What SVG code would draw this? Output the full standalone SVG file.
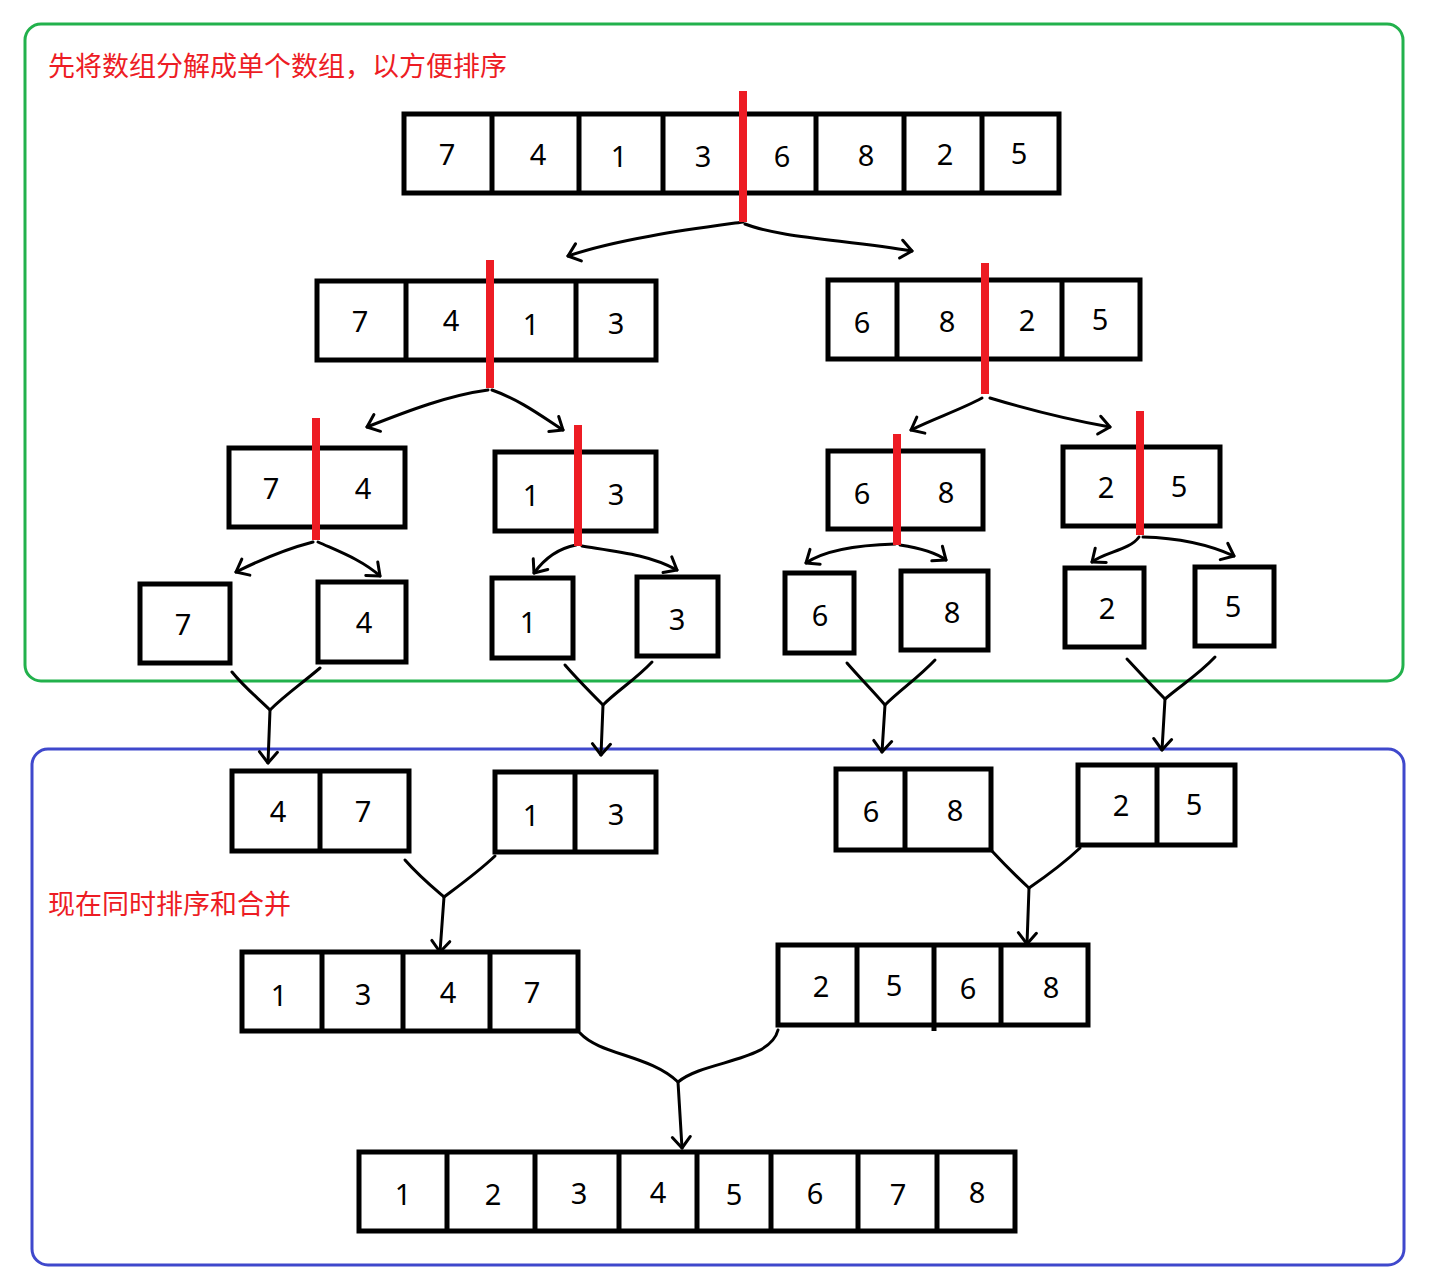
<svg xmlns="http://www.w3.org/2000/svg" width="1441" height="1280" viewBox="0 0 1441 1280">
<style>
.box{fill:none;stroke:#000;stroke-width:5}
.div{stroke:#000;stroke-width:5}
.cut{stroke:#ed1c24;stroke-width:8}
.num{font-family:"Noto Sans","Open Sans",sans-serif;font-size:29px;fill:#000;text-anchor:middle}
.note{font-family:"Noto Sans CJK SC","Noto Sans",sans-serif;font-size:27px;fill:#ed1c24}
.con{fill:none;stroke:#000;stroke-width:3;stroke-linecap:round;stroke-linejoin:round}
</style>
<defs>
<marker id="ah" markerUnits="userSpaceOnUse" markerWidth="26" markerHeight="26" viewBox="-13 -13 26 26" refX="0" refY="0" orient="auto">
<path d="M-11,-9 L0,0 L-11,9" fill="none" stroke="#000" stroke-width="3" stroke-linecap="round" stroke-linejoin="round"/>
</marker>
</defs>
<rect width="1441" height="1280" fill="#fff"/>
<g id="split-area"><rect x="25" y="24" width="1378" height="657" rx="16" fill="none" stroke="#22b14c" stroke-width="3"/>
<text class="note" x="48" y="76">先将数组分解成单个数组，以方便排序</text></g>
<g id="merge-area"><rect x="32" y="749" width="1372" height="516" rx="16" fill="none" stroke="#3f48cc" stroke-width="3"/>
<text class="note" x="48" y="914">现在同时排序和合并</text></g>

<g id="connectors">
<path class="con" marker-end="url(#ah)" d="M743,222 C700,228 620,238 568,256"/>
<path class="con" marker-end="url(#ah)" d="M745,224 C780,238 850,240 912,251"/>
<path class="con" marker-end="url(#ah)" d="M488,390 C450,395 410,410 367,427"/>
<path class="con" marker-end="url(#ah)" d="M492,390 C520,400 540,415 563,430"/>
<path class="con" marker-end="url(#ah)" d="M982,398 C960,410 935,418 911,430"/>
<path class="con" marker-end="url(#ah)" d="M990,398 C1030,410 1070,420 1110,427"/>
<path class="con" marker-end="url(#ah)" d="M313,542 C290,548 260,560 236,572"/>
<path class="con" marker-end="url(#ah)" d="M318,542 C340,552 362,560 380,576"/>
<path class="con" marker-end="url(#ah)" d="M576,545 C560,548 545,558 534,573"/>
<path class="con" marker-end="url(#ah)" d="M582,546 C620,552 650,555 677,570"/>
<path class="con" marker-end="url(#ah)" d="M895,544 C860,545 825,550 806,563"/>
<path class="con" marker-end="url(#ah)" d="M900,545 C920,548 935,552 946,560"/>
<path class="con" marker-end="url(#ah)" d="M1139,537 C1130,550 1105,552 1092,562"/>
<path class="con" marker-end="url(#ah)" d="M1143,537 C1180,538 1210,545 1234,556"/>
<path class="con" d="M232,672 C245,688 258,698 270,710 M320,668 C300,685 285,695 270,710"/>
<path class="con" marker-end="url(#ah)" d="M270,710 L268,763"/>
<path class="con" d="M565,665 C578,680 590,692 603,705 M652,662 C635,680 618,690 603,705"/>
<path class="con" marker-end="url(#ah)" d="M603,705 L601,755"/>
<path class="con" d="M847,663 C860,678 872,690 885,705 M935,660 C918,678 900,690 885,705"/>
<path class="con" marker-end="url(#ah)" d="M885,705 L882,752"/>
<path class="con" d="M1127,659 C1140,673 1152,686 1165,699 M1215,657 C1198,675 1180,686 1165,699"/>
<path class="con" marker-end="url(#ah)" d="M1165,699 L1162,750"/>
<path class="con" d="M405,860 C418,875 430,885 444,897 M495,856 C478,872 460,885 444,897"/>
<path class="con" marker-end="url(#ah)" d="M444,897 L440,952"/>
<path class="con" d="M991,850 C1005,865 1017,877 1029,888 M1080,848 C1062,865 1045,877 1029,888"/>
<path class="con" marker-end="url(#ah)" d="M1029,888 L1027,944"/>
<path class="con" d="M580,1033 C600,1055 650,1055 678,1082 M778,1030 C770,1062 705,1060 678,1082"/>
<path class="con" marker-end="url(#ah)" d="M678,1082 L682,1148"/>
</g>

<g id="arr-74132685">
<rect class="box" x="404" y="114" width="655" height="79"/>
<path class="div" d="M492,114V193M579,114V193M663,114V193M743,114V193M816,114V193M904,114V193M982,114V193"/>
<text class="num" x="447" y="165">7</text><text class="num" x="538" y="165">4</text><text class="num" x="619" y="167">1</text><text class="num" x="703" y="167">3</text><text class="num" x="782" y="167">6</text><text class="num" x="866" y="166">8</text><text class="num" x="945" y="165">2</text><text class="num" x="1019" y="164">5</text>
<line class="cut" x1="743" y1="91" x2="743" y2="222"/>
</g>
<g id="arr-7413">
<rect class="box" x="317" y="281" width="339" height="79"/>
<path class="div" d="M406,281V360M490,281V360M576,281V360"/>
<text class="num" x="360" y="332">7</text><text class="num" x="451" y="331">4</text><text class="num" x="531" y="335">1</text><text class="num" x="616" y="334">3</text>
<line class="cut" x1="490" y1="260" x2="490" y2="388"/>
</g>
<g id="arr-6825">
<rect class="box" x="828" y="280" width="312" height="79"/>
<path class="div" d="M897,280V359M985,280V359M1062,280V359"/>
<text class="num" x="862" y="333">6</text><text class="num" x="947" y="332">8</text><text class="num" x="1027" y="331">2</text><text class="num" x="1100" y="330">5</text>
<line class="cut" x1="985" y1="263" x2="985" y2="394"/>
</g>
<g id="arr-74">
<rect class="box" x="229" y="448" width="176" height="79"/>
<path class="div" d="M316,448V527"/>
<text class="num" x="271" y="499">7</text><text class="num" x="363" y="499">4</text>
<line class="cut" x1="316" y1="418" x2="316" y2="540"/>
</g>
<g id="arr-13">
<rect class="box" x="495" y="452" width="161" height="79"/>
<path class="div" d="M578,452V531"/>
<text class="num" x="531" y="506">1</text><text class="num" x="616" y="505">3</text>
<line class="cut" x1="578" y1="425" x2="578" y2="546"/>
</g>
<g id="arr-68">
<rect class="box" x="828" y="451" width="155" height="78"/>
<path class="div" d="M897,451V529"/>
<text class="num" x="862" y="504">6</text><text class="num" x="946" y="503">8</text>
<line class="cut" x1="897" y1="434" x2="897" y2="545"/>
</g>
<g id="arr-25">
<rect class="box" x="1063" y="447" width="157" height="79"/>
<path class="div" d="M1140,447V526"/>
<text class="num" x="1106" y="498">2</text><text class="num" x="1179" y="497">5</text>
<line class="cut" x1="1140" y1="411" x2="1140" y2="535"/>
</g>
<g id="one-7"><rect class="box" x="140" y="584" width="90" height="79"/><text class="num" x="183" y="635">7</text></g>
<g id="one-4"><rect class="box" x="318" y="582" width="88" height="80"/><text class="num" x="364" y="633">4</text></g>
<g id="one-1"><rect class="box" x="492" y="578" width="81" height="80"/><text class="num" x="528" y="633">1</text></g>
<g id="one-3"><rect class="box" x="637" y="577" width="81" height="79"/><text class="num" x="677" y="630">3</text></g>
<g id="one-6"><rect class="box" x="785" y="573" width="69" height="80"/><text class="num" x="820" y="626">6</text></g>
<g id="one-8"><rect class="box" x="901" y="571" width="87" height="79"/><text class="num" x="952" y="623">8</text></g>
<g id="one-2"><rect class="box" x="1065" y="568" width="79" height="79"/><text class="num" x="1107" y="619">2</text></g>
<g id="one-5"><rect class="box" x="1195" y="567" width="79" height="79"/><text class="num" x="1233" y="617">5</text></g>

<g id="m-47">
<rect class="box" x="232" y="771" width="177" height="80"/>
<path class="div" d="M320,771V851"/>
<text class="num" x="278" y="822">4</text><text class="num" x="363" y="822">7</text>
</g>
<g id="m-13">
<rect class="box" x="495" y="772" width="161" height="80"/>
<path class="div" d="M575,772V852"/>
<text class="num" x="531" y="826">1</text><text class="num" x="616" y="825">3</text>
</g>
<g id="m-68">
<rect class="box" x="836" y="769" width="155" height="81"/>
<path class="div" d="M905,769V850"/>
<text class="num" x="871" y="822">6</text><text class="num" x="955" y="821">8</text>
</g>
<g id="m-25">
<rect class="box" x="1078" y="765" width="157" height="80"/>
<path class="div" d="M1157,765V845"/>
<text class="num" x="1121" y="816">2</text><text class="num" x="1194" y="815">5</text>
</g>
<g id="m-1347">
<rect class="box" x="242" y="952" width="336" height="79"/>
<path class="div" d="M322,952V1031M403,952V1031M490,952V1031"/>
<text class="num" x="279" y="1006">1</text><text class="num" x="363" y="1005">3</text><text class="num" x="448" y="1003">4</text><text class="num" x="532" y="1003">7</text>
</g>
<g id="m-2568">
<rect class="box" x="778" y="945" width="310" height="80"/>
<path class="div" d="M857,945V1025M934,943V1031M1001,945V1025"/>
<text class="num" x="821" y="997">2</text><text class="num" x="894" y="996">5</text><text class="num" x="968" y="999">6</text><text class="num" x="1051" y="998">8</text>
</g>
<g id="m-12345678">
<rect class="box" x="359" y="1152" width="656" height="79"/>
<path class="div" d="M447,1152V1231M535,1152V1231M619,1152V1231M697,1152V1231M771,1152V1231M858,1152V1231M937,1152V1231"/>
<text class="num" x="403" y="1205">1</text><text class="num" x="493" y="1205">2</text><text class="num" x="579" y="1204">3</text><text class="num" x="658" y="1203">4</text><text class="num" x="734" y="1205">5</text><text class="num" x="815" y="1204">6</text><text class="num" x="898" y="1205">7</text><text class="num" x="977" y="1203">8</text>
</g>
</svg>
